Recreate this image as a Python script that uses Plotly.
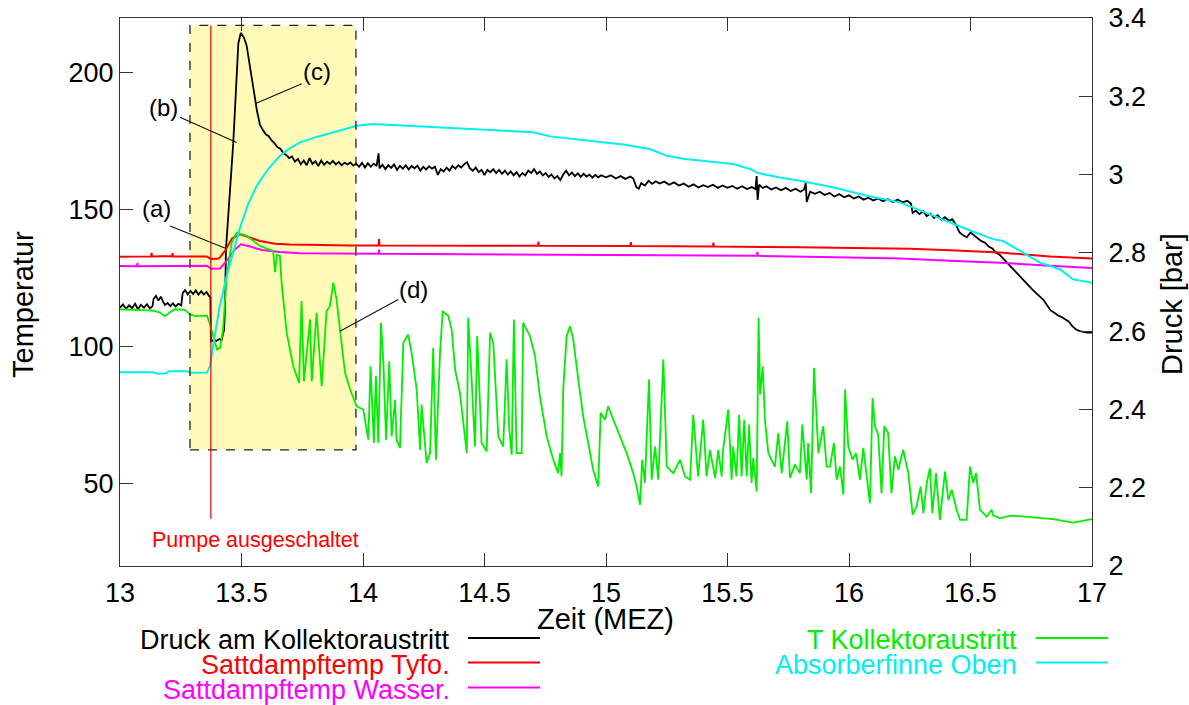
import plotly.graph_objects as go

# ---------------- data ----------------
# Druck am Kollektoraustritt  [bar]  (right axis)
t_druck = [13.000,13.012,13.025,13.037,13.050,13.062,13.074,13.086,13.099,13.111,13.123,13.134,13.138,13.148,13.158,13.168,13.178,13.185,13.196,13.207,13.218,13.229,13.240,13.252,13.258,13.268,13.279,13.290,13.301,13.312,13.323,13.334,13.345,13.356,13.366,13.372,13.374,13.385,13.397,13.408,13.418,13.428,13.432,13.436,13.466,13.487,13.497,13.503,13.510,13.521,13.532,13.542,13.553,13.563,13.576,13.588,13.600,13.612,13.624,13.636,13.648,13.660,13.672,13.684,13.696,13.708,13.720,13.732,13.744,13.756,13.768,13.780,13.792,13.804,13.816,13.828,13.840,13.852,13.864,13.876,13.888,13.900,13.912,13.924,13.936,13.948,13.960,13.972,13.984,13.996,14.008,14.020,14.032,14.044,14.056,14.064,14.068,14.080,14.092,14.104,14.116,14.128,14.140,14.152,14.164,14.176,14.188,14.200,14.212,14.224,14.236,14.248,14.260,14.272,14.284,14.296,14.308,14.320,14.332,14.344,14.356,14.368,14.380,14.392,14.404,14.416,14.428,14.440,14.452,14.464,14.476,14.488,14.500,14.512,14.524,14.536,14.548,14.560,14.572,14.584,14.596,14.608,14.620,14.632,14.644,14.656,14.668,14.680,14.692,14.704,14.716,14.728,14.740,14.752,14.764,14.776,14.788,14.800,14.812,14.824,14.836,14.848,14.860,14.872,14.884,14.896,14.908,14.920,14.932,14.944,14.956,14.968,14.980,15.000,15.020,15.040,15.060,15.080,15.100,15.112,15.125,15.135,15.145,15.160,15.175,15.190,15.205,15.220,15.240,15.260,15.280,15.300,15.320,15.340,15.360,15.380,15.400,15.420,15.440,15.460,15.480,15.500,15.520,15.540,15.560,15.580,15.600,15.615,15.620,15.624,15.630,15.645,15.660,15.680,15.700,15.720,15.740,15.760,15.780,15.800,15.815,15.822,15.826,15.840,15.860,15.880,15.900,15.920,15.940,15.960,15.980,16.000,16.020,16.040,16.060,16.080,16.100,16.120,16.140,16.160,16.180,16.200,16.220,16.240,16.255,16.262,16.275,16.290,16.305,16.320,16.335,16.350,16.365,16.380,16.395,16.410,16.425,16.440,16.455,16.470,16.485,16.500,16.515,16.530,16.545,16.560,16.575,16.590,16.605,16.620,16.635,16.650,16.665,16.680,16.695,16.710,16.725,16.740,16.755,16.770,16.785,16.800,16.815,16.830,16.845,16.860,16.875,16.890,16.905,16.920,16.935,16.950,16.965,16.980,17.000]
p_druck = [2.660,2.668,2.657,2.666,2.659,2.670,2.656,2.667,2.660,2.669,2.658,2.664,2.682,2.690,2.678,2.688,2.674,2.667,2.672,2.664,2.671,2.663,2.670,2.666,2.697,2.705,2.694,2.703,2.695,2.704,2.693,2.702,2.694,2.700,2.690,2.686,2.573,2.578,2.575,2.580,2.577,2.603,2.654,2.809,3.080,3.335,3.362,3.357,3.350,3.330,3.290,3.250,3.205,3.165,3.127,3.114,3.103,3.098,3.087,3.080,3.070,3.066,3.055,3.050,3.042,3.046,3.033,3.040,3.026,3.036,3.024,3.042,3.027,3.034,3.022,3.036,3.025,3.033,3.027,3.035,3.026,3.032,3.024,3.030,3.026,3.031,3.023,3.028,3.020,3.030,3.018,3.029,3.020,3.028,3.022,3.054,3.016,3.025,3.014,3.024,3.017,3.026,3.012,3.022,3.015,3.024,3.013,3.022,3.016,3.023,3.010,3.020,3.013,3.021,3.015,3.020,2.999,3.014,3.008,3.018,3.010,3.022,3.015,3.024,3.018,3.026,3.032,3.016,3.010,3.018,3.006,3.012,2.999,3.012,3.006,3.014,3.004,3.012,3.002,3.010,3.000,3.008,2.998,3.006,2.995,3.004,2.998,3.010,3.004,3.014,3.002,3.008,2.998,3.004,2.994,3.000,2.990,2.996,2.986,3.000,3.010,2.998,3.005,2.996,3.003,2.994,3.002,2.995,3.000,2.992,2.999,2.993,2.998,2.993,2.998,2.990,2.996,2.989,2.995,2.990,2.968,2.964,2.978,2.972,2.984,2.976,2.983,2.977,2.982,2.974,2.980,2.972,2.977,2.969,2.975,2.967,2.973,2.968,2.974,2.966,2.972,2.966,2.971,2.964,2.970,2.963,2.968,2.963,2.996,2.935,2.974,2.966,2.970,2.962,2.967,2.960,2.966,2.958,2.964,2.956,2.962,2.978,2.930,2.956,2.951,2.956,2.948,2.953,2.944,2.950,2.942,2.947,2.939,2.944,2.936,2.941,2.934,2.939,2.932,2.937,2.930,2.936,2.929,2.933,2.926,2.902,2.908,2.899,2.906,2.894,2.900,2.889,2.896,2.885,2.891,2.882,2.886,2.872,2.852,2.845,2.840,2.852,2.845,2.838,2.830,2.826,2.816,2.811,2.800,2.795,2.785,2.774,2.765,2.754,2.745,2.735,2.726,2.716,2.706,2.697,2.688,2.680,2.666,2.653,2.647,2.640,2.636,2.631,2.624,2.612,2.604,2.600,2.598,2.596,2.596]

# Sattdampftemp Tyfo.
t_tyfo = [13.000,13.128,13.130,13.132,13.214,13.216,13.218,13.358,13.374,13.407,13.432,13.461,13.494,13.527,13.576,13.638,13.700,13.947,14.064,14.066,14.068,14.500,14.720,14.722,14.724,15.100,15.102,15.104,15.440,15.442,15.444,15.800,16.250,16.416,16.621,16.827,17.000]
T_tyfo = [132.9,133.0,134.3,133.0,133.1,134.2,133.0,133.0,132.0,132.2,135.0,139.5,141.1,140.2,138.6,137.6,137.3,137.0,137.0,139.3,137.0,136.9,136.9,138.4,136.9,136.8,138.2,136.8,136.6,138.0,136.6,136.3,135.8,135.2,134.4,133.0,132.2]

# Sattdampftemp Wasser.
t_wasser = [13.000,13.070,13.072,13.074,13.358,13.374,13.412,13.440,13.473,13.498,13.535,13.584,13.658,13.741,14.064,14.066,14.068,14.564,15.181,15.621,15.623,15.625,16.004,16.210,16.416,16.621,16.827,17.000]
T_wasser = [129.5,129.4,130.6,129.4,129.6,128.5,128.6,131.5,135.5,137.4,136.6,135.3,134.6,134.1,134.0,135.5,134.0,133.8,133.4,133.2,134.6,133.2,132.6,132.2,131.4,130.7,129.6,128.8]

# T Kollektoraustritt
t_koll = [13.000,13.082,13.136,13.165,13.185,13.206,13.226,13.267,13.288,13.309,13.358,13.370,13.383,13.399,13.412,13.424,13.439,13.460,13.480,13.521,13.576,13.610,13.630,13.638,13.645,13.658,13.665,13.686,13.713,13.737,13.747,13.757,13.782,13.789,13.809,13.830,13.850,13.864,13.878,13.891,13.905,13.926,13.947,13.974,14.001,14.022,14.031,14.045,14.053,14.063,14.074,14.084,14.095,14.108,14.118,14.132,14.138,14.152,14.166,14.186,14.200,14.221,14.235,14.241,14.262,14.276,14.289,14.300,14.317,14.328,14.351,14.365,14.379,14.399,14.427,14.433,14.447,14.461,14.470,14.488,14.509,14.523,14.536,14.557,14.577,14.591,14.602,14.612,14.621,14.632,14.653,14.659,14.687,14.708,14.728,14.756,14.783,14.803,14.811,14.817,14.824,14.838,14.852,14.865,14.886,14.906,14.927,14.947,14.968,14.978,14.996,15.009,15.030,15.058,15.085,15.112,15.126,15.140,15.149,15.160,15.177,15.188,15.202,15.215,15.236,15.250,15.277,15.305,15.325,15.346,15.359,15.379,15.400,15.414,15.428,15.449,15.462,15.476,15.482,15.503,15.517,15.523,15.537,15.548,15.558,15.569,15.579,15.589,15.599,15.606,15.620,15.628,15.634,15.645,15.654,15.668,15.695,15.709,15.723,15.746,15.757,15.778,15.798,15.808,15.826,15.832,15.844,15.856,15.874,15.894,15.908,15.922,15.938,15.949,15.963,15.977,15.984,15.997,16.015,16.029,16.045,16.059,16.086,16.097,16.107,16.120,16.134,16.145,16.161,16.175,16.189,16.203,16.223,16.244,16.262,16.278,16.295,16.306,16.320,16.333,16.343,16.358,16.374,16.395,16.409,16.423,16.443,16.457,16.484,16.498,16.511,16.523,16.539,16.567,16.587,16.593,16.621,16.669,16.758,16.840,16.923,17.000]
T_koll = [113.7,113.5,113.2,112.5,111.2,112.6,113.7,113.5,111.8,111.2,111.4,108.2,103.9,99.0,99.6,106.3,125.8,138.1,141.7,140.5,136.8,135.6,135.0,127.2,133.5,133.2,123.4,105.1,92.9,86.8,116.7,87.4,110.0,87.4,112.4,85.6,113.0,114.9,123.4,117.3,105.7,90.5,84.4,78.3,77.1,66.1,92.9,64.9,89.3,64.9,108.8,94.2,66.1,94.7,67.3,80.7,66.1,63.1,101.5,104.5,97.8,84.4,62.4,78.9,57.6,61.2,99.6,58.8,97.8,113.0,111.2,106.3,91.7,83.2,61.2,110.6,88.1,63.6,103.9,64.9,61.8,105.1,101.5,67.3,63.6,95.4,69.8,60.6,110.0,61.2,61.2,108.8,103.9,96.6,81.9,67.3,58.8,53.9,61.2,52.7,84.4,103.9,107.5,102.7,88.1,74.6,64.9,55.1,49.0,75.9,73.4,78.3,73.4,67.3,61.2,53.9,49.0,42.3,58.8,50.3,88.1,51.5,63.6,51.5,95.4,56.3,53.9,58.8,52.7,51.5,75.2,52.7,73.4,52.7,62.4,52.1,62.4,52.7,62.4,77.1,51.5,63.6,52.7,75.2,52.7,73.4,52.7,71.6,50.3,59.4,47.2,110.6,82.6,92.9,73.4,61.2,56.3,68.5,53.9,72.8,52.1,57.0,53.9,71.6,51.5,64.9,46.6,92.3,61.2,71.0,56.3,56.3,64.9,51.5,56.3,46.0,84.4,63.6,58.8,61.2,51.5,63.1,42.9,81.3,71.0,67.9,46.6,71.0,68.5,46.6,60.0,55.1,62.4,53.9,38.7,41.7,49.0,39.3,50.3,55.7,39.3,53.9,36.8,54.5,44.1,47.8,40.5,36.8,36.8,56.3,50.3,53.9,40.5,38.0,40.5,38.4,37.5,38.4,37.8,37.1,35.8,37.1]

# Absorberfinne Oben
t_absorb = [13.000,13.136,13.156,13.189,13.202,13.276,13.288,13.358,13.370,13.391,13.408,13.439,13.466,13.494,13.527,13.563,13.609,13.658,13.700,13.741,13.809,13.878,13.926,13.974,14.041,14.152,14.288,14.424,14.564,14.700,14.770,14.872,14.975,15.078,15.181,15.251,15.317,15.387,15.523,15.593,15.626,15.716,15.798,15.934,16.074,16.210,16.346,16.486,16.593,16.634,16.704,16.786,16.868,16.922,17.000]
T_absorb = [90.7,90.7,90.2,90.3,91.1,91.1,90.5,90.6,92.9,103.9,113.7,125.8,134.4,143.5,152.0,158.8,164.8,169.7,172.5,174.6,176.6,178.3,179.6,180.7,181.3,180.8,180.1,179.6,178.9,178.3,176.8,175.8,174.9,173.7,172.2,169.7,168.6,167.9,166.7,164.9,163.4,161.8,160.6,158.2,155.1,152.7,147.8,142.9,139.3,138.6,135.0,130.7,128.3,124.6,123.4]

series_names = ["Druck am Kollektoraustritt", "Sattdampftemp Tyfo.", "Sattdampftemp Wasser.",
                "T Kollektoraustritt", "Absorberfinne Oben"]
series_colors = ["#000000", "#ff0000", "#ff00ff", "#00ee00", "#00f0f0"]

x_ticks = [13, 13.5, 14, 14.5, 15, 15.5, 16, 16.5, 17]
T_ticks = [50, 100, 150, 200]
P_ticks = [2, 2.2, 2.4, 2.6, 2.8, 3, 3.2, 3.4]

# ---------------- layout geometry (page pixels of the reference) ----------------
W, H = 1189, 705
L, R, TOP, BOT = 120, 1092, 18, 566
FONT = "Liberation Sans, Arial, sans-serif"

def px(xp):
    return (xp - L) / (R - L)

def py(yp):
    return (BOT - yp) / (BOT - TOP)

def T2P(T):
    return 2 + (T - 20) / 200 * 1.4

fig = go.Figure()

# pressure on main y (right side) so the temperature curves draw on top of it
fig.add_trace(go.Scatter(x=t_druck, y=p_druck, mode="lines", name=series_names[0],
                         line=dict(color=series_colors[0], width=1.8), yaxis="y"))
fig.add_trace(go.Scatter(x=t_tyfo, y=T_tyfo, mode="lines", name=series_names[1],
                         line=dict(color=series_colors[1], width=2), yaxis="y2"))
fig.add_trace(go.Scatter(x=t_wasser, y=T_wasser, mode="lines", name=series_names[2],
                         line=dict(color=series_colors[2], width=2), yaxis="y2"))
fig.add_trace(go.Scatter(x=t_koll, y=T_koll, mode="lines", name=series_names[3],
                         line=dict(color=series_colors[3], width=1.8), yaxis="y2"))
fig.add_trace(go.Scatter(x=t_absorb, y=T_absorb, mode="lines", name=series_names[4],
                         line=dict(color=series_colors[4], width=2), yaxis="y2"))

shapes = []
# highlighted region
box_t0, box_t1, box_T0, box_T1 = 13.288, 13.971, 62.4, 217.3
shapes.append(dict(type="rect", xref="x", yref="y", x0=box_t0, x1=box_t1,
                   y0=T2P(box_T0), y1=T2P(box_T1), fillcolor="#fffab8",
                   line=dict(width=0), layer="below"))
shapes.append(dict(type="rect", xref="x", yref="y2", x0=box_t0, x1=box_t1,
                   y0=box_T0, y1=box_T1, fillcolor="rgba(0,0,0,0)",
                   line=dict(color="#222", width=1.3, dash="dash"), layer="above"))
# pump switched off marker
shapes.append(dict(type="line", xref="x", yref="y2", x0=13.374, x1=13.374, y0=37.2, y1=217.3,
                   line=dict(color="#e00000", width=1.2), layer="above"))

# annotation connector lines (a)-(d)
connectors = [((13.206, 144.1), (13.436, 135.9)),
              ((13.247, 183.8), (13.480, 174.6)),
              ((13.748, 196.0), (13.556, 188.7)),
              ((14.145, 117.3), (13.905, 105.7))]
for (a, b) in connectors:
    shapes.append(dict(type="line", xref="x", yref="y2", x0=a[0], y0=a[1], x1=b[0], y1=b[1],
                       line=dict(color="#111", width=1.1), layer="above"))

# legend line samples (gnuplot style, drawn in paper coordinates)
legend_rows = [(452, 638, 468, 540, 0), (452, 662.5, 468, 540, 1), (452, 687.5, 468, 540, 2),
               (1019, 638, 1036, 1108, 3), (1019, 662.5, 1036, 1108, 4)]
annotations = []
for (tx, yy, lx0, lx1, k) in legend_rows:
    shapes.append(dict(type="line", xref="paper", yref="paper", x0=px(lx0), x1=px(lx1),
                       y0=py(yy), y1=py(yy), line=dict(color=series_colors[k], width=2)))
    annotations.append(dict(text=series_names[k], xref="paper", yref="paper", x=px(tx),
                            y=py(yy + 2), xanchor="right", yanchor="middle", showarrow=False,
                            font=dict(family=FONT, size=27, color=series_colors[k])))

labels = [("(a)", 13.151, 150.3), ("(b)", 13.178, 187.4), ("(c)", 13.809, 200.3), ("(d)", 14.207, 121.0)]
for (txt, xx, yy) in labels:
    annotations.append(dict(text=txt, xref="x", yref="y2", x=xx, y=yy, showarrow=False,
                            xanchor="center", yanchor="middle",
                            font=dict(family=FONT, size=24, color="black")))
annotations.append(dict(text="Pumpe ausgeschaltet", xref="x", yref="y2", x=13.556, y=29.5,
                        showarrow=False, xanchor="center", yanchor="middle",
                        font=dict(family=FONT, size=21.5, color="#ff0000")))

# axis titles
annotations.append(dict(text="Temperatur", xref="paper", yref="paper", x=px(23), y=py(305),
                        textangle=-90, showarrow=False, xanchor="center", yanchor="middle",
                        font=dict(family=FONT, size=29, color="black")))
annotations.append(dict(text="Druck [bar]", xref="paper", yref="paper", x=px(1172), y=py(304),
                        textangle=-90, showarrow=False, xanchor="center", yanchor="middle",
                        font=dict(family=FONT, size=29, color="black")))
annotations.append(dict(text="Zeit (MEZ)", xref="paper", yref="paper", x=px(605), y=py(619),
                        showarrow=False, xanchor="center", yanchor="middle",
                        font=dict(family=FONT, size=29, color="black")))

axis_common = dict(showgrid=False, zeroline=False, showline=True, linecolor="#333", linewidth=1,
                   ticks="inside", ticklen=13, tickwidth=1, tickcolor="#333",
                   ticklabeloverflow="allow",
                   tickfont=dict(family=FONT, size=27, color="black"))

fig.update_layout(
    width=W, height=H,
    margin=dict(l=L, r=W - R, t=TOP, b=H - BOT, pad=0),
    paper_bgcolor="white", plot_bgcolor="rgba(0,0,0,0)",
    showlegend=False,
    xaxis=dict(range=[13, 17], tickvals=x_ticks, ticktext=[f"{v:g}" for v in x_ticks],
               mirror="ticks", anchor="y", automargin=False, ticklabelstandoff=3, **axis_common),
    yaxis=dict(range=[2, 3.4], tickvals=P_ticks, ticktext=[f"{v:g}" for v in P_ticks],
               side="right", automargin=False, ticklabelstandoff=10, **axis_common),
    yaxis2=dict(range=[20, 220], tickvals=T_ticks, ticktext=[str(v) for v in T_ticks],
                side="left", overlaying="y", anchor="x", automargin=False, **axis_common),
    shapes=shapes,
    annotations=annotations,
)

# the page's default body margin would shift the figure by 8px; remove it
fig.write_html("out.html", config={"displayModeBar": False},
               post_script="document.body.style.margin='0';")
